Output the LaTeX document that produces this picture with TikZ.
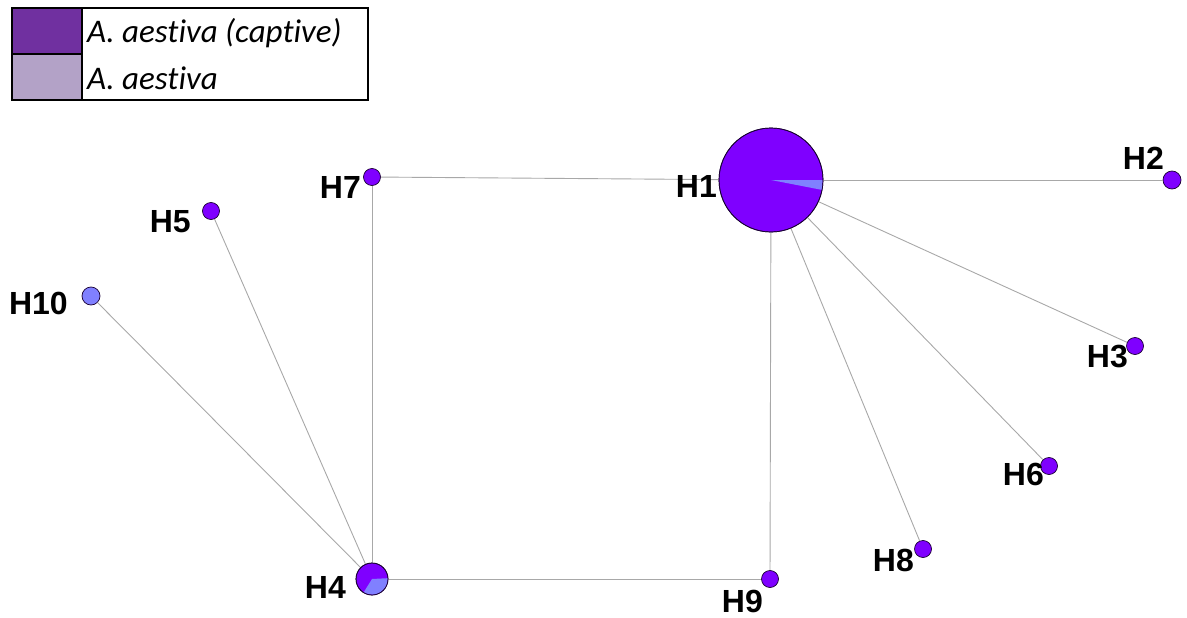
\documentclass[tikz,border=0pt]{standalone}
\usepackage{fontspec}
\setmainfont{Liberation Sans}
\newfontfamily\legfont[Ligatures=NoCommon]{Carlito}
\definecolor{hapv}{HTML}{7F00FF}
\definecolor{hapl}{HTML}{8080FF}
\definecolor{legdark}{HTML}{7030A0}
\definecolor{leglight}{HTML}{B3A2C7}
\definecolor{edgegray}{HTML}{A8A8A8}
\begin{document}
\begin{tikzpicture}[x=1pt,y=1pt,
  hap/.style={circle,draw=black!80!hapv,line width=0.7pt,fill=hapv,inner sep=0pt,minimum size=#1},
  hapblue/.style={circle,draw=black!80!hapv,line width=0.7pt,fill=hapl,inner sep=0pt,minimum size=#1},
  link/.style={draw=edgegray,line width=0.9pt},
  lab/.style={font=\fontsize{32}{32}\selectfont\bfseries,inner sep=0pt},
  legtext/.style={font=\legfont\itshape\fontsize{33}{33}\selectfont,anchor=west,inner sep=0pt}]
\useasboundingbox (0,0) rectangle (1187,-618);
% legend
\fill[legdark] (12,-8) rectangle (82,-54);
\fill[leglight] (12,-54) rectangle (82,-100);
\draw[line width=1.2pt] (82,-8) -- (82,-100);
\draw[line width=1.2pt] (12,-54) -- (82,-54);
\draw[line width=2.2pt] (12,-8) rectangle (368,-100);
\node[legtext] (leg1) at (87,-33) {A. aestiva (captive)};
\node[legtext] (leg2) at (87,-78) {A. aestiva};
% nodes
\node[hap=104pt] (H1) at (771,-180) {};
\node[hap=18pt] (H2) at (1172,-180) {};
\node[hap=17pt] (H3) at (1135,-346) {};
\node[hap=32pt] (H4) at (372,-579) {};
\node[hap=17pt] (H5) at (211,-211) {};
\node[hap=17pt] (H6) at (1049,-466) {};
\node[hap=17pt] (H7) at (372,-177) {};
\node[hap=17pt] (H8) at (923,-549) {};
\node[hap=17pt] (H9) at (770,-579) {};
\node[hapblue=18pt] (H10) at (91,-296) {};
% edges
\path[link] (H7) -- (H1);
\path[link] (H7) -- (H4);
\path[link] (H4) -- (H9);
\path[link] (H9) -- (H1);
\path[link] (H1) -- (H2);
\path[link] (H1) -- (H3);
\path[link] (H1) -- (H6);
\path[link] (H1) -- (H8);
\path[link] (H4) -- (H5);
\path[link] (H4) -- (H10);
% pie slices
\fill[hapl] (H1.center) -- ++(0:51.6) arc[start angle=0,end angle=-11,radius=51.6] -- cycle;
\fill[hapl] (H4.center) -- ++(3:15.6) arc[start angle=3,end angle=-122,radius=15.6] -- cycle;
\draw[black!80!hapv,line width=0.7pt] (H1.center) circle[radius=52];
\draw[black!80!hapv,line width=0.7pt] (H4.center) circle[radius=16];
% labels
\node[lab,anchor=east] (L1) at (717,-186) {H1};
\node[lab,anchor=east] (L2) at (1164,-158) {H2};
\node[lab,anchor=east] (L3) at (1128,-357) {H3};
\node[lab,anchor=east] (L4) at (346,-587) {H4};
\node[lab,anchor=east] (L5) at (191,-222) {H5};
\node[lab,anchor=east] (L6) at (1044,-474) {H6};
\node[lab,anchor=east] (L7) at (361,-187) {H7};
\node[lab,anchor=east] (L8) at (914,-560) {H8};
\node[lab,anchor=east] (L9) at (763,-601) {H9};
\node[lab,anchor=east] (L10) at (68,-303) {H10};
\end{tikzpicture}
\end{document}
